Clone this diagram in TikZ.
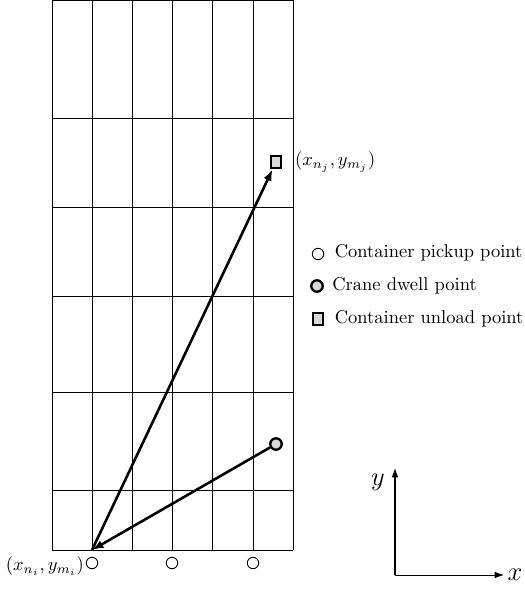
\documentclass[tikz,border=0pt]{standalone}
\usetikzlibrary{arrows.meta}
\begin{document}
\begin{tikzpicture}[x=0.541pt,y=-0.541pt,
  every node/.style={inner sep=2pt},
  grid line/.style={line width=.5pt},
  move/.style={-{Latex[length=2.2mm,width=1.6mm]},line width=1.4pt},
  axis/.style={-{Latex[length=1.8mm,width=1.3mm]},line width=.55pt},
  pickup/.style={circle,draw,line width=.5pt,minimum size=6.2pt,inner sep=0pt},
  dwell/.style={circle,draw,fill=black!15,line width=1.25pt,minimum size=6.2pt,inner sep=0pt},
  unload/.style={rectangle,draw,fill=black!15,line width=1.2pt,
    minimum width=5.4pt,minimum height=6.6pt,inner sep=0pt},
  legend note/.style={anchor=west,inner sep=0pt}]
\useasboundingbox (0,0) rectangle (524,612);

% Yard blocks: six bays wide, rows of unequal depth.
\foreach \gx in {52,92,132,172,212,253,293}
  \draw[grid line] (\gx,0) -- (\gx,550);
\foreach \gy in {0.5,118,207,296,392,490,550}
  \draw[grid line] (52,\gy) -- (293,\gy);

\coordinate (origin) at (92,550);
\node[pickup] (pickup a) at (92,563) {};
\node[pickup] (pickup b) at (172,563) {};
\node[pickup] (pickup c) at (253,563) {};
\node[dwell] (dwell) at (276,444) {};
\node[unload] (unload) at (276,162) {};

\node[anchor=west] (unload label) at (291,162) {$(x_{n_j},y_{m_j})$};
\node[anchor=east] (origin label) at (88,566) {$(x_{n_i},y_{m_i})$};

\draw[move] (origin) -- (unload);
\draw[move] (dwell) -- (origin);

% Legend
\node[pickup] (key pickup) at (318,254) {};
\node[dwell] (key dwell) at (317,286) {};
\node[unload] (key unload) at (318,319) {};
\node[legend note] at (334.5,253) {Container pickup point};
\node[legend note] at (332,286) {Crane dwell point};
\node[legend note] at (334.5,319) {Container unload point};

% Axes
\coordinate (axis origin) at (395,575);
\coordinate (x end) at (504,575);
\coordinate (y end) at (395,468);
\draw[axis] (axis origin) -- (x end);
\draw[axis] (axis origin) -- (y end);
\node (x label) at (515,575) {\Large$x$};
\node (y label) at (378,482) {\Large$y$};
\end{tikzpicture}
\end{document}
